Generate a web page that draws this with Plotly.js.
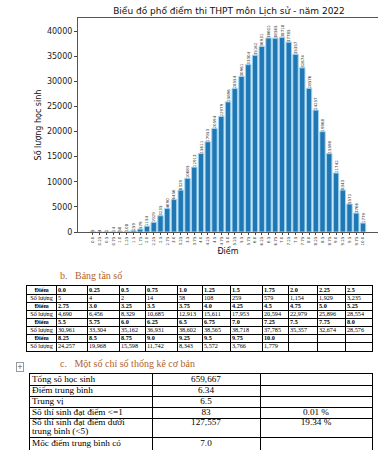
<!DOCTYPE html>
<html><head><meta charset="utf-8">
<script src="https://cdn.plot.ly/plotly-3.0.1.min.js"></script>
<style>html,body{margin:0;padding:0;overflow:hidden;background:#fff}#chart{width:378px;height:470px}</style>
</head><body><div id="chart"></div>
<script>
const chartTitle = "Biểu đồ phổ điểm thi THPT môn Lịch sử - năm 2022";
const xTitle = "Điểm";
const yTitle = "Số lượng học sinh";
const scores = ["0.0","0.25","0.5","0.75","1.0","1.25","1.5","1.75","2.0","2.25","2.5",
  "2.75","3.0","3.25","3.5","3.75","4.0","4.25","4.5","4.75","5.0","5.25",
  "5.5","5.75","6.0","6.25","6.5","6.75","7.0","7.25","7.5","7.75","8.0",
  "8.25","8.5","8.75","9.0","9.25","9.5","9.75","10.0"];
const counts = [5,4,2,14,58,108,259,579,1154,1929,3235,
  4690,6456,8329,10685,12913,15611,17953,20594,22979,25896,28554,
  30961,33304,35162,36931,38602,38565,38718,37785,35357,32674,28576,
  24257,19968,15598,11742,8343,5572,3766,1779];
const yTicks = [0,5000,10000,15000,20000,25000,30000,35000,40000];
const freqRowLabels = ["Điểm","Số lượng"];
const headingB = "b.   Bảng tần số";
const headingC = "c.   Một số chỉ số thống kê cơ bản";
const statLabels = ["Tổng số học sinh","Điểm trung bình","Trung vị","Số thí sinh đạt điểm &lt;=1",
  "Số thí sinh đạt điểm dưới<br>trung bình (&lt;5)","Mốc điểm trung bình có"];
const statValues = ["659,667","6.34","6.5","83","127,557","7.0"];
const statPercents = ["","","","0.01 %","19.34 %",""];

const H = 470, W = 378;
const px = v => v / W, py = v => 1 - v / H;
const serif = "Liberation Serif, Times New Roman, serif";
const sans = "DejaVu Sans, sans-serif";

// ---------- frequency table (drawn on its own axes: gridlines = cell borders) ----------
const perRow = 11;
const nGroups = Math.ceil(scores.length / perRow);
const freqColW = [29, 31, 32, 26, 32, 25, 28, 32, 26, 29, 28, 27];
const freqColEdges = [0];
freqColW.forEach(w => freqColEdges.push(freqColEdges[freqColEdges.length - 1] + w));
const nFreqRows = nGroups * 2;
const freqRowEdges = [];
for (let r = 0; r <= nFreqRows; r++) freqRowEdges.push(r);
const fx = [], fy = [], ft = [], fpos = [];
for (let g = 0; g < nGroups; g++) {
  for (let k = 0; k < 2; k++) {
    const row = g * 2 + k;
    fx.push((freqColEdges[0] + freqColEdges[1]) / 2); fy.push(row + 0.5);
    ft.push(k === 0 ? "<b>" + freqRowLabels[0] + "</b>" : freqRowLabels[1]); fpos.push("middle center");
    for (let j = 0; j < perRow; j++) {
      const i = g * perRow + j;
      if (i >= scores.length) continue;
      fx.push(freqColEdges[j + 1] + 2); fy.push(row + 0.5);
      ft.push(k === 0 ? "<b>" + scores[i] + "</b>" : counts[i].toLocaleString("en-US"));
      fpos.push("middle right");
    }
  }
}

// ---------- stats table ----------
const statColEdges = [0, 122, 230, 342];
const statRowEdges = [0, 11, 22, 33, 44, 63, 96];
const sx = [], sy = [], st = [], spos = [];
statLabels.forEach((lab, r) => {
  const lines = lab.split("<br>");
  const top = statRowEdges[r];
  const rowH = Math.min(statRowEdges[r + 1] - top, 20);
  const lineH = 9;
  const first = top + rowH / 2 - (lines.length - 1) * lineH / 2;
  const yFirst = (r === statLabels.length - 1) ? top + 6.5 : first;
  lines.forEach((ln, li) => { sx.push(2); sy.push(yFirst + li * lineH); st.push(ln); spos.push("middle right"); });
  if (statValues[r]) { sx.push((statColEdges[1] + statColEdges[2]) / 2); sy.push(yFirst); st.push(statValues[r]); spos.push("middle center"); }
  if (statPercents[r]) { sx.push((statColEdges[2] + statColEdges[3]) / 2); sy.push(yFirst); st.push(statPercents[r]); spos.push("middle center"); }
});

const bars = {
  type: "bar", x: scores, y: counts,
  text: counts.map(String), textposition: "outside", textangle: -90,
  constraintext: "none", cliponaxis: false,
  textfont: {family: sans, size: 4, color: "#333"},
  marker: {color: "#1f77b4", line: {color: "#9fd3ef", width: 1}},
  xaxis: "x", yaxis: "y", hoverinfo: "skip"
};
const freqText = {
  type: "scatter", mode: "text", x: fx, y: fy, text: ft, textposition: fpos,
  textfont: {family: serif, size: 6.2, color: "#000"}, cliponaxis: false,
  xaxis: "x2", yaxis: "y2", hoverinfo: "skip"
};
const statText = {
  type: "scatter", mode: "text", x: sx, y: sy, text: st, textposition: spos,
  textfont: {family: serif, size: 9.2, color: "#000"}, cliponaxis: false,
  xaxis: "x3", yaxis: "y3", hoverinfo: "skip"
};

const gridAxis = (domain, range, edges) => ({
  domain: domain, range: range, tickmode: "array", tickvals: edges,
  showticklabels: false, ticks: "", showgrid: true, gridcolor: "#000", gridwidth: 1,
  showline: true, linecolor: "#000", linewidth: 1, mirror: true, zeroline: false, automargin: false
});

const layout = {
  width: W, height: H, margin: {l: 0, r: 0, t: 0, b: 0},
  paper_bgcolor: "#fff", plot_bgcolor: "#fff", showlegend: false,
  font: {family: sans, color: "#222"},
  title: {text: chartTitle, x: px(229), xanchor: "center", y: py(11), yanchor: "middle",
    font: {family: sans, size: 9, color: "#111"}},
  xaxis: {domain: [px(78), 1], range: [-2.22, 42.22], type: "category",
    tickmode: "linear", tick0: 0, dtick: 1,
    tickangle: -90, tickfont: {family: sans, size: 4, color: "#333"},
    ticks: "outside", ticklen: 2, tickcolor: "#444",
    showline: true, linecolor: "#555", linewidth: 1, mirror: true,
    showgrid: false, zeroline: false, automargin: false,
    title: {text: xTitle, standoff: 3, font: {family: sans, size: 8, color: "#111"}}},
  yaxis: {domain: [py(232), py(18)], range: [0, 42590],
    tickmode: "array", tickvals: yTicks, ticktext: yTicks.map(String),
    tickfont: {family: sans, size: 8, color: "#222"},
    ticks: "outside", ticklen: 3, tickcolor: "#444",
    showline: true, linecolor: "#555", linewidth: 1,
    showgrid: false, zeroline: false, automargin: false,
    title: {text: yTitle, standoff: 4, font: {family: sans, size: 8, color: "#111"}}},
  xaxis2: Object.assign(gridAxis([px(27), px(372)], [0, freqColEdges[freqColEdges.length - 1]], freqColEdges), {anchor: "y2"}),
  yaxis2: Object.assign(gridAxis([py(351), py(286)], [nFreqRows, 0], freqRowEdges), {anchor: "x2"}),
  xaxis3: Object.assign(gridAxis([px(30), px(372)], [0, statColEdges[statColEdges.length - 1]], statColEdges), {anchor: "y3"}),
  yaxis3: Object.assign(gridAxis([0, py(374)], [96, 0], statRowEdges), {anchor: "x3"}),
  annotations: [
    {text: headingB, xref: "paper", yref: "paper", x: px(58), y: py(275), xanchor: "left", yanchor: "middle",
      showarrow: false, font: {family: serif, size: 10, color: "#b0622c"}},
    {text: headingC, xref: "paper", yref: "paper", x: px(58), y: py(363), xanchor: "left", yanchor: "middle",
      showarrow: false, font: {family: serif, size: 10, color: "#b0622c"}},
    {text: "+", xref: "paper", yref: "paper", x: px(20), y: py(367), xanchor: "center", yanchor: "middle",
      showarrow: false, bordercolor: "#999", borderwidth: 1, borderpad: 0,
      font: {family: sans, size: 7, color: "#555"}}
  ]
};

Plotly.newPlot("chart", [bars, freqText, statText], layout, {staticPlot: true, displayModeBar: false});
</script></body></html>
